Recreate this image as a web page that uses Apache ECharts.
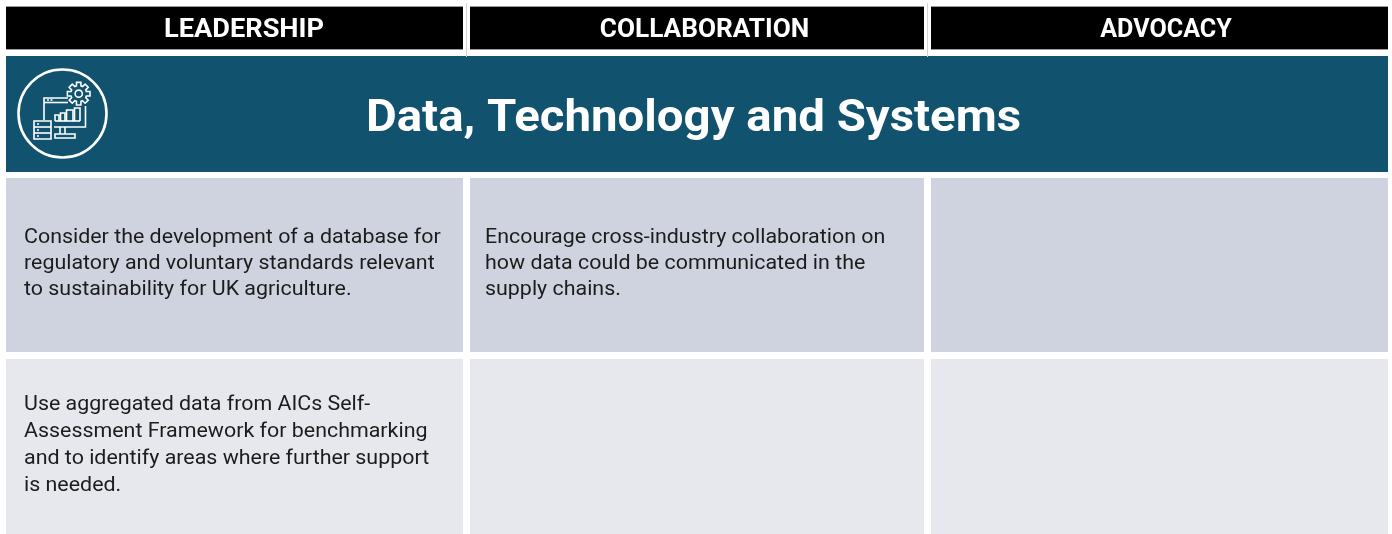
<!DOCTYPE html>
<html>
<head>
<meta charset="utf-8">
<style>html,body{margin:0;padding:0;background:#fff}#main{width:1392px;height:534px}</style>
<script src="https://cdn.jsdelivr.net/npm/echarts@6/dist/echarts.min.js"></script>
</head>
<body>
<div id="main"></div>
<script>
var columns = ['LEADERSHIP', 'COLLABORATION', 'ADVOCACY'];
var banner = 'Data, Technology and Systems';
var rowOne = [
    'Consider the development of a database for\nregulatory and voluntary standards relevant\nto sustainability for UK agriculture.',
    'Encourage cross-industry collaboration on\nhow data could be communicated in the\nsupply chains.',
    ''
];
var rowTwo = [
    'Use aggregated data from AICs Self-\nAssessment Framework for benchmarking\nand to identify areas where further support\nis needed.',
    '',
    ''
];

// cell edges on the page, in px
var colEdges = [[6, 463], [470, 924], [931, 1388]];
var bandEdges = [[7, 49], [56, 172], [178, 352], [359, 534]];
var headCentre = [244, 704.5, 1166];
var headStretch = [1.088, 1.048, 1.005];
var bodyInset = [18, 15, 15];
var fontName = 'Roboto';

var cells = [];
columns.forEach(function (c, i) { cells.push([i, 0, c]); });
cells.push([-1, 1, banner]);
rowOne.forEach(function (c, i) { cells.push([i, 2, c]); });
rowTwo.forEach(function (c, i) { cells.push([i, 3, c]); });

var bandFill = ['#000000', '#11536f', '#cfd3df', '#e7e8ee'];

function renderCell(params, api) {
    var col = api.value(0), band = api.value(1), text = cells[params.dataIndex][2];
    var xs = col < 0 ? [colEdges[0][0], colEdges[2][1]] : colEdges[col];
    var ys = bandEdges[band];
    var p0 = api.coord([xs[0], ys[0]]), p1 = api.coord([xs[1], ys[1]]);
    var w = p1[0] - p0[0], h = p1[1] - p0[1];
    var midY = p0[1] + h / 2;
    // the source font runs wider than Roboto, so text is stretched a little
    var label;
    if (band === 0) {
        label = { x: headCentre[col], y: midY + 3, scaleX: headStretch[col], style: { text: text, fill: '#fff', font: 'bold 25px ' + fontName, align: 'center', verticalAlign: 'middle' } };
    } else if (band === 1) {
        label = { x: 693.5, y: midY + 6, scaleX: 1.053, style: { text: text, fill: '#fff', font: 'bold 45px ' + fontName, align: 'center', verticalAlign: 'middle' } };
    } else {
        label = { x: p0[0] + bodyInset[col], y: midY - 1, scaleX: 1.07, style: { text: text, fill: '#1c1c1c', font: '20px ' + fontName, lineHeight: band === 2 ? 26 : 27, align: 'left', verticalAlign: 'middle' } };
    }
    label.type = 'text';
    label.z2 = 5;
    return {
        type: 'group',
        children: [
            { type: 'rect', shape: { x: p0[0], y: p0[1], width: w, height: h }, style: { fill: bandFill[band] } },
            label
        ]
    };
}

// icon in the banner, line drawing only
var iconStroke = { stroke: '#fff', lineWidth: 1.6, fill: null };
var iconLines = [
    [[44, 120], [44, 98], [68, 98]],
    [[44, 102.5], [68, 102.5]],
    [[85.5, 106], [85.5, 127], [54, 127]],
    [[60, 127], [60, 134]],
    [[65, 127], [65, 134]],
    [[55, 121], [80, 121]],
    [[55, 121], [55, 115], [59, 115], [59, 121]],
    [[60.5, 121], [60.5, 113], [65, 113], [65, 121]],
    [[66.5, 121], [66.5, 110], [73, 110], [73, 121]],
    [[74.5, 121], [74.5, 108], [80, 108], [80, 121]],
    [[34, 127], [51, 127]],
    [[34, 133], [51, 133]],
    [[47, 100], [49, 100]],
    [[50.5, 100], [52.5, 100]],
    [[37, 124], [39, 124]],
    [[37, 130], [39, 130]],
    [[37, 136], [39, 136]]
];
var iconRects = [[34, 121, 17, 18], [55, 134, 20, 4]];

var gearPoints = [];
for (var a = 0; a < 8; a++) {
    var t = a * Math.PI / 4, s = 0.24;
    [[8, t - s * 1.2], [11.5, t - s * 0.8], [11.5, t + s * 0.8], [8, t + s * 1.2]].forEach(function (q) {
        gearPoints.push([78.7 + q[0] * Math.cos(q[1]), 93.7 + q[0] * Math.sin(q[1])]);
    });
}

var decor = [
    { type: 'circle', z: 20, shape: { cx: 62.5, cy: 113.5, r: 44 }, style: { stroke: '#fff', lineWidth: 2.6, fill: null } },
    { type: 'polygon', z: 21, shape: { points: gearPoints }, style: iconStroke },
    { type: 'circle', z: 22, shape: { cx: 78.7, cy: 93.7, r: 3.6 }, style: iconStroke },
    { type: 'rect', z: 20, shape: { x: 466, y: 3, width: 1, height: 54 }, style: { fill: '#d4d4d4' } },
    { type: 'rect', z: 20, shape: { x: 927, y: 3, width: 1, height: 54 }, style: { fill: '#d4d4d4' } },
    { type: 'rect', z: 21, shape: { x: 6, y: 6, width: 457, height: 1 }, style: { fill: '#9a9a9a' } },
    { type: 'rect', z: 21, shape: { x: 470, y: 6, width: 454, height: 1 }, style: { fill: '#9a9a9a' } },
    { type: 'rect', z: 21, shape: { x: 931, y: 6, width: 457, height: 1 }, style: { fill: '#9a9a9a' } },
    { type: 'rect', z: 21, shape: { x: 6, y: 49, width: 457, height: 1 }, style: { fill: '#9a9a9a' } },
    { type: 'rect', z: 21, shape: { x: 470, y: 49, width: 454, height: 1 }, style: { fill: '#9a9a9a' } },
    { type: 'rect', z: 21, shape: { x: 931, y: 49, width: 457, height: 1 }, style: { fill: '#9a9a9a' } }
];
iconLines.forEach(function (pts) {
    decor.push({ type: 'polyline', z: 20, shape: { points: pts }, style: iconStroke });
});
iconRects.forEach(function (r) {
    decor.push({ type: 'rect', z: 20, shape: { x: r[0], y: r[1], width: r[2], height: r[3] }, style: iconStroke });
});

var myChart = echarts.init(document.getElementById('main'));

var option = {
    animation: false,
    grid: { left: 0, right: 0, top: 0, bottom: 0 },
    xAxis: { type: 'value', min: 0, max: 1392, show: false },
    yAxis: { type: 'value', min: 0, max: 534, inverse: true, show: false },
    graphic: decor,
    series: [{
        type: 'custom',
        coordinateSystem: 'cartesian2d',
        silent: true,
        renderItem: renderCell,
        data: cells.map(function (c) { return [c[0], c[1]]; })
    }]
};
myChart.setOption(option);
</script>
</body>
</html>
